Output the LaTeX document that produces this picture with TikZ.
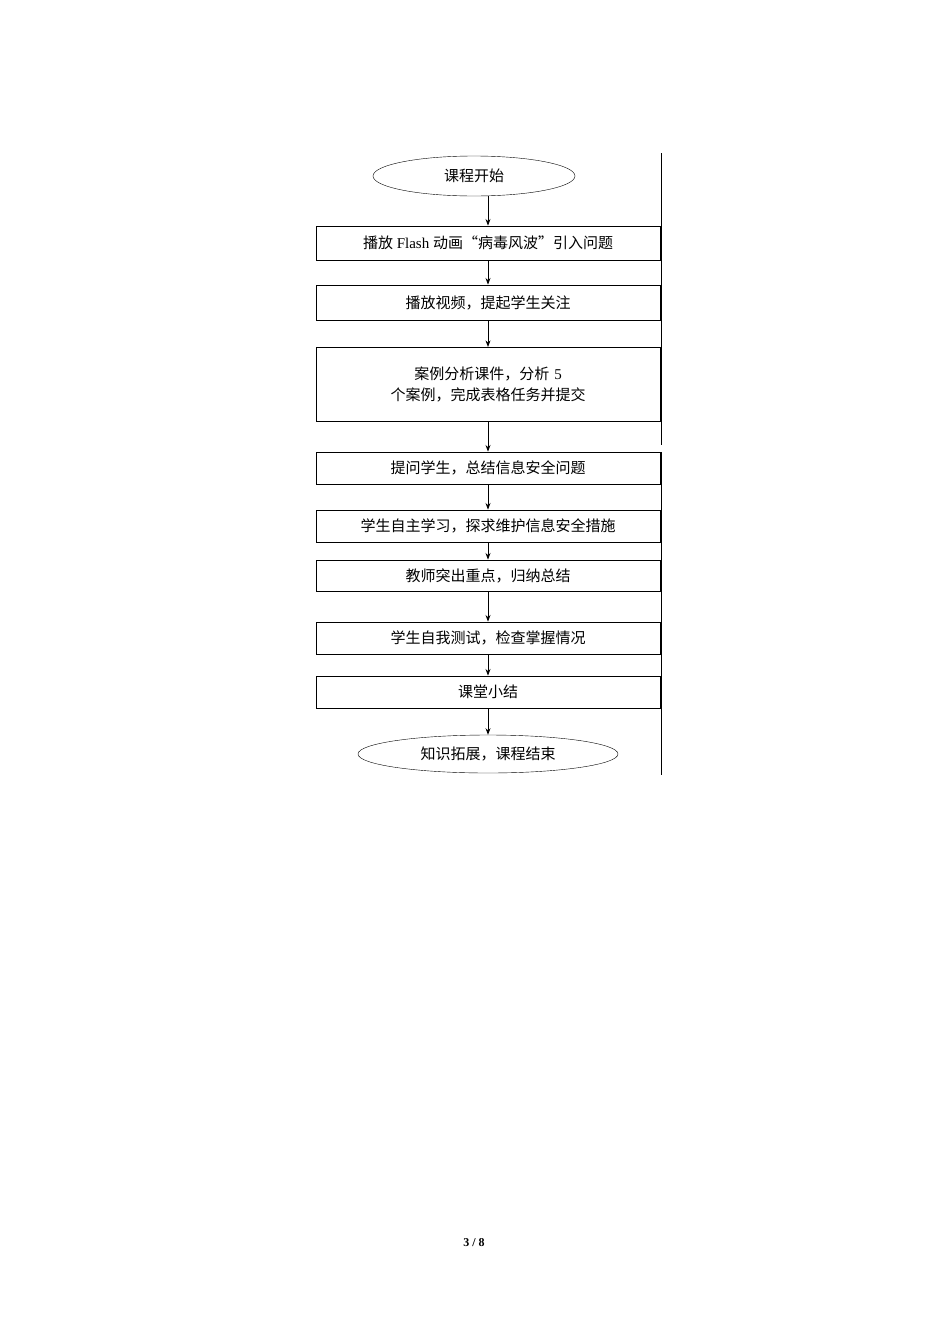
\documentclass[tikz,border=0pt]{standalone}
\usepackage{fontspec}
\setmainfont{Liberation Serif}
\newfontfamily\cjk{Noto Sans CJK SC}
\usetikzlibrary{arrows.meta, positioning, shapes.geometric}
\tikzset{
    stepbox/.style={draw, thick, minimum width=344pt, minimum height=33pt, inner sep=2pt, font=\fontsize{15}{21}\selectfont},
    terminal/.style={draw, ellipse, font=\fontsize{15}{21}\selectfont},
    flow/.style={arrows={-Stealth[scale=1]}, thick}
}
\begin{document}
\begin{tikzpicture}[x=1pt, y=-1pt]
    \useasboundingbox (0,0) rectangle (950,1344);
    % Nodes
    \node[terminal, minimum width=202pt, minimum height=40pt] (start) at (474,176) {\cjk 课程开始};
    \node[stepbox, minimum height=34pt] (flash) at (488,243) {{\cjk 播放} Flash {\cjk 动画“病毒风波”引入问题}};
    \node[stepbox, minimum height=35pt] (video) at (488,302.5) {\cjk 播放视频，提起学生关注};
    \node[stepbox, minimum height=74pt, text width=330pt, align=center, anchor=north] (cases) at (488,347)
        {{\cjk 案例分析课件，分析} 5 {\cjk 个案例，完成表格任务并提交}\\[20pt]};
    \node[stepbox, minimum height=32pt] (ask) at (488,468) {\cjk 提问学生，总结信息安全问题};
    \node[stepbox, minimum height=32pt] (self) at (488,526) {\cjk 学生自主学习，探求维护信息安全措施};
    \node[stepbox, minimum height=31pt] (teach) at (488,575.5) {\cjk 教师突出重点，归纳总结};
    \node[stepbox, minimum height=32pt] (test) at (488,638) {\cjk 学生自我测试，检查掌握情况};
    \node[stepbox, minimum height=32pt] (sum) at (488,692) {\cjk 课堂小结};
    \node[terminal, minimum width=260pt, minimum height=38pt] (end) at (488,754) {\cjk 知识拓展，课程结束};
    \node[font=\bfseries\fontsize{12}{14}\selectfont] (page) at (474,1243) {3 / 8};

    % Side line
    \coordinate (line top) at (661,153);
    \coordinate (line mid) at (661,445);
    \coordinate (line low) at (661,452);
    \coordinate (line bottom) at (661,775);
    \draw (line top) -- (line mid);
    \draw (line low) -- (line bottom);

    % Connections
    \draw[flow] (start.south -| flash.north) -- (flash);
    \draw[flow] (flash) -- (video);
    \draw[flow] (video) -- (cases);
    \draw[flow] (cases) -- (ask);
    \draw[flow] (ask) -- (self);
    \draw[flow] (self) -- (teach);
    \draw[flow] (teach) -- (test);
    \draw[flow] (test) -- (sum);
    \draw[flow] (sum) -- (end);
\end{tikzpicture}
\end{document}
